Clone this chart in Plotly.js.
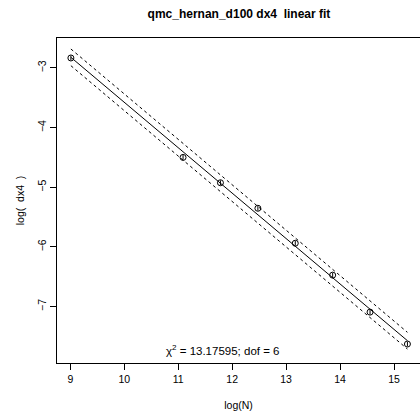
<!DOCTYPE html>
<html>
<head>
<meta charset="utf-8">
<script src="https://cdn.plot.ly/plotly-3.0.1.min.js"></script>
<style>html,body{margin:0;padding:0;background:#fff;}#chart{width:420px;height:413px;}</style>
</head>
<body>
<div id="chart"></div>
<script>
// Data
var logN = [9.011, 11.090, 11.783, 12.477, 13.170, 13.863, 14.556, 15.249];
var logDx4 = [-2.833, -4.500, -4.925, -5.353, -5.939, -6.474, -7.094, -7.629];
var errDx4 = [0.04, 0.04, 0.04, 0.04, 0.04, 0.04, 0.04, 0.04];
var bandHalfWidth = 0.14;
var xTicks = [9, 10, 11, 12, 13, 14, 15];
var yTicks = [-7, -6, -5, -4, -3];
var chi2Text = "\u03c7<sup>2</sup> = 13.17595; dof = 6";
var titleText = "qmc_hernan_d100 dx4  linear fit";

// Linear least-squares fit from the data
var n = logN.length, mx = 0, my = 0;
for (var i = 0; i < n; i++) { mx += logN[i]; my += logDx4[i]; }
mx /= n; my /= n;
var sxy = 0, sxx = 0;
for (var i = 0; i < n; i++) { sxy += (logN[i]-mx)*(logDx4[i]-my); sxx += (logN[i]-mx)*(logN[i]-mx); }
var slope = sxy / sxx, intercept = my - slope*mx;
var fitX = [logN[0], logN[n-1]];
var fitY = fitX.map(function(x){ return intercept + slope*x; });
var upY = fitY.map(function(y){ return y + bandHalfWidth; });
var loY = fitY.map(function(y){ return y - bandHalfWidth; });

var font = "Liberation Sans, Arial, Helvetica, sans-serif";
var traces = [
  {x: fitX, y: upY, mode: "lines", line: {color: "black", width: 1, dash: "3px,3px"}, hoverinfo: "skip"},
  {x: fitX, y: loY, mode: "lines", line: {color: "black", width: 1, dash: "3px,3px"}, hoverinfo: "skip"},
  {x: fitX, y: fitY, mode: "lines", line: {color: "black", width: 1}, hoverinfo: "skip"},
  {x: logN, y: logDx4, mode: "markers",
   marker: {symbol: "circle-open", size: 6, color: "black", line: {width: 1, color: "black"}},
   error_y: {type: "data", array: errDx4, visible: true, color: "black", thickness: 1, width: 0}}
];
var layout = {
  width: 420, height: 413,
  margin: {l: 57, r: 0, t: 38, b: 50},
  paper_bgcolor: "white", plot_bgcolor: "white",
  showlegend: false,
  font: {family: font, size: 10, color: "black"},
  title: {text: "<b>" + titleText + "</b>", font: {family: font, size: 12, color: "black"}, x: 0.569, xanchor: "center", y: 0.966, yanchor: "middle"},
  xaxis: {range: [8.7535, 15.482], tickvals: xTicks, ticktext: xTicks.map(String),
    ticks: "outside", ticklen: 6, tickcolor: "black", showgrid: false, zeroline: false,
    showline: true, linecolor: "black", linewidth: 1, mirror: true,
    tickfont: {size: 10.5}, title: {text: "log(N)", font: {size: 10.5}, standoff: 18}},
  yaxis: {range: [-7.947, -2.498], tickvals: yTicks, ticktext: yTicks.map(function(v){return "\u2212" + Math.abs(v);}),
    tickangle: -90, ticks: "outside", ticklen: 6, tickcolor: "black", showgrid: false, zeroline: false,
    showline: true, linecolor: "black", linewidth: 1, mirror: true,
    tickfont: {size: 10.5}, title: {text: "log(  dx4  )", font: {size: 10.5}, standoff: 9}},
  annotations: [{x: 11.82, y: -7.725, xref: "x", yref: "y", text: chi2Text, showarrow: false,
    font: {size: 11.5, color: "black"}, xanchor: "center", yanchor: "middle"}]
};
Plotly.newPlot("chart", traces, layout, {staticPlot: true, displayModeBar: false});
</script>
</body>
</html>
